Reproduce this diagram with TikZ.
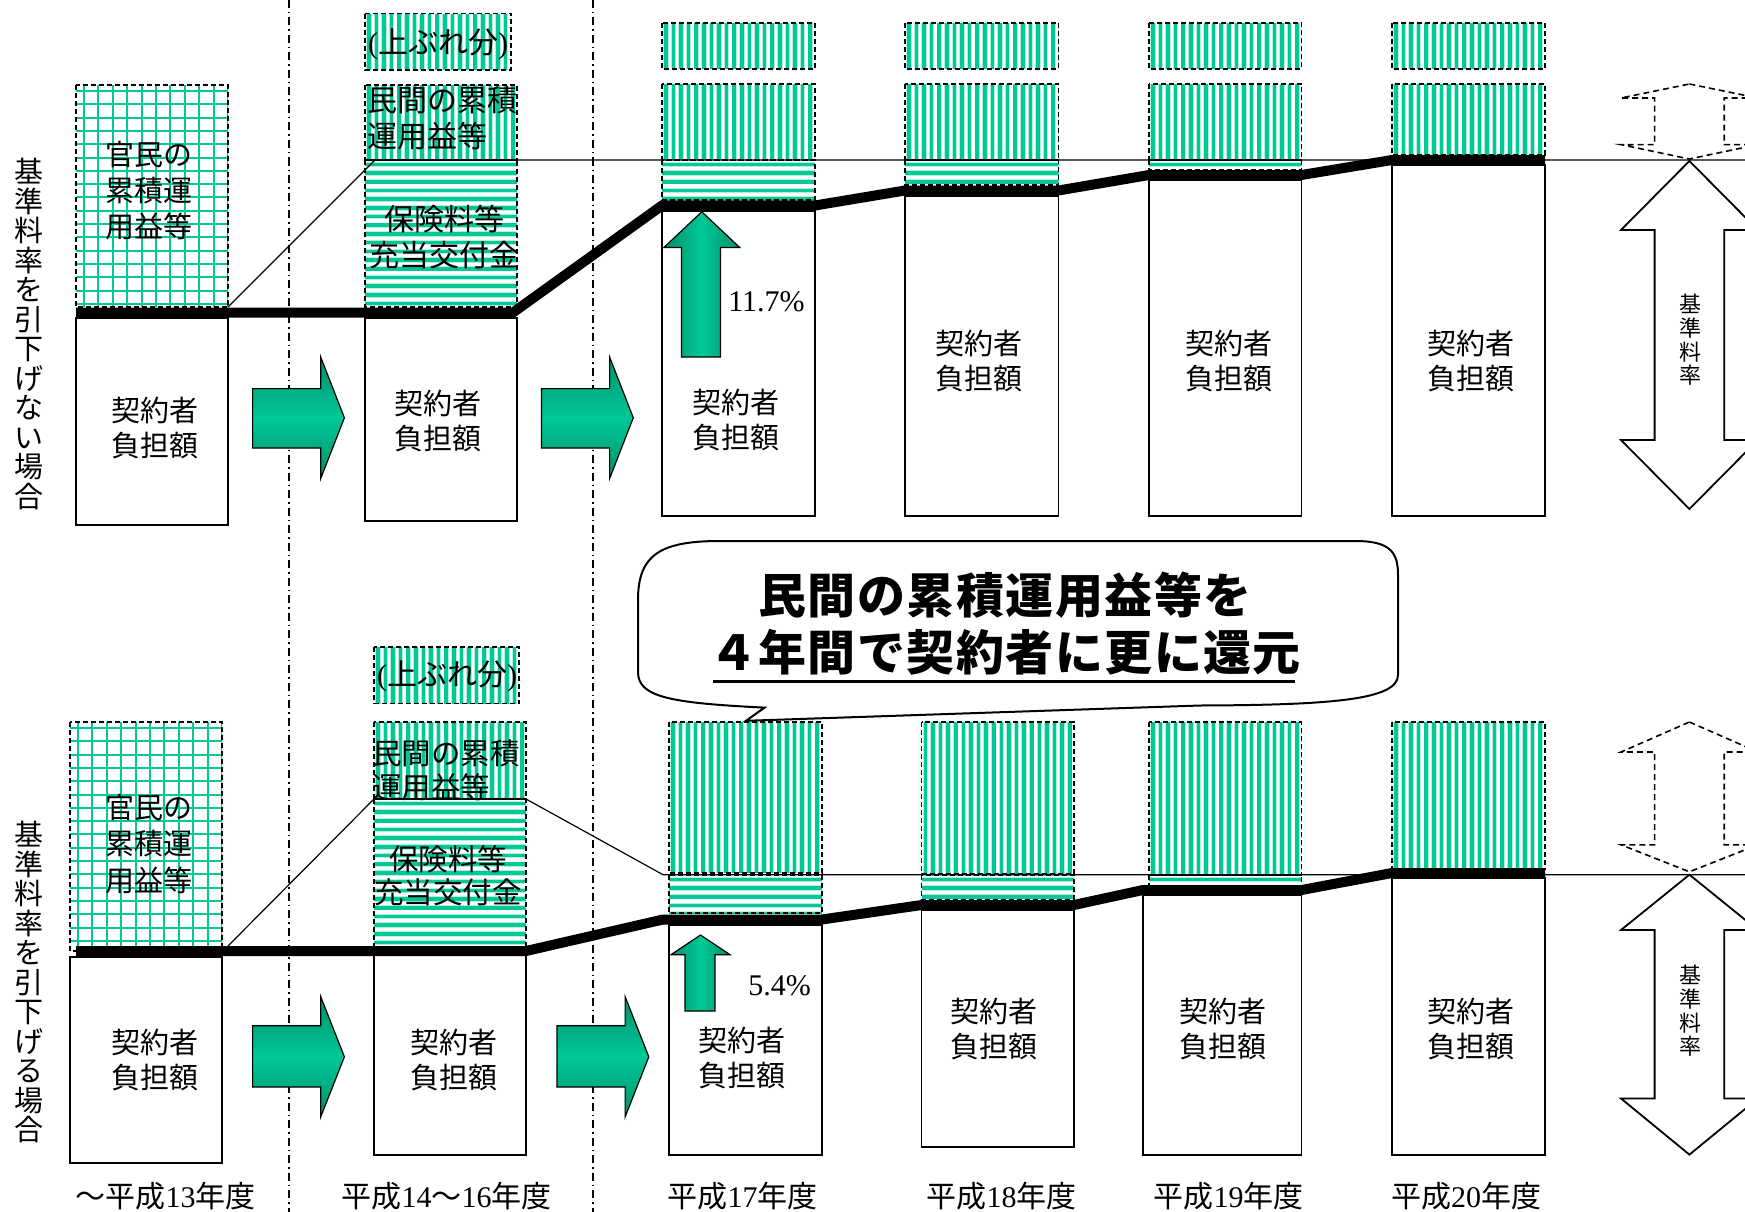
\documentclass[tikz,border=0pt]{standalone}
\usepackage{fontspec}
\setmainfont{Liberation Serif}
\newfontfamily\jp{Noto Sans CJK JP}
\definecolor{gr}{HTML}{00C896}
\definecolor{grl}{HTML}{B4EEDC}
\definecolor{grd}{HTML}{008F6B}
\newcommand\VStripes[4]{\begin{scope}\clip (#1,#2) rectangle (#3,#4);
 \foreach \i in {0,...,21}{\pgfmathsetmacro\xx{#1+3.8+7.6*\i}\draw[halo] (\xx,#2)--(\xx,#4);\draw[stripe] (\xx,#2)--(\xx,#4);}\end{scope}
 \draw[dbox] (#1,#2) rectangle (#3,#4);}
\newcommand\HStripes[4]{\begin{scope}\clip (#1,#2) rectangle (#3,#4);
 \foreach \i in {0,...,18}{\pgfmathsetmacro\yy{#2+4.35+8.7*\i}\draw[halo] (#1,\yy)--(#3,\yy);\draw[stripe] (#1,\yy)--(#3,\yy);}\end{scope}
 \draw[dbox] (#1,#2) rectangle (#3,#4);}
\newcommand\GridFill[4]{\begin{scope}\clip (#1,#2) rectangle (#3,#4);
 \foreach \i in {0,...,11}{\pgfmathsetmacro\xx{#1+8+14.4*\i}\draw[gline] (\xx,#2)--(\xx,#4);}
 \foreach \i in {0,...,18}{\pgfmathsetmacro\yy{#2+6+13.3*\i}\draw[gline] (#1,\yy)--(#3,\yy);}\end{scope}
 \draw[dbox] (#1,#2) rectangle (#3,#4);}
\tikzset{
 stripe/.style={gr, line width=3.6pt},
 halo/.style={grl, line width=5.4pt},
 gline/.style={gr, line width=2pt},
 dbox/.style={draw=black, line width=1.8pt, dash pattern=on 5pt off 3pt},
 sbox/.style={draw=black, line width=1.8pt, fill=white},
 heavy/.style={line width=10pt, black},
 thinline/.style={line width=1.2pt, black},
 dashdot/.style={line width=1.6pt, black, dash pattern=on 8pt off 4pt on 1.5pt off 4pt},
 rarrow/.style={draw=black, line width=1.2pt, top color=grd, bottom color=grd, middle color=gr},
 uarrow/.style={draw=black, line width=1.2pt, left color=grd, right color=grd, middle color=gr},
 dblarrow/.style={draw=black, line width=1.8pt, fill=white},
 dsharrow/.style={draw=black, line width=1.6pt, dash pattern=on 6pt off 4pt},
 jt/.style={font={\jp\fontsize{29}{35}\selectfont}, align=center, inner sep=0pt},
 jl/.style={font={\jp\fontsize{30}{36}\selectfont}, align=left, inner sep=0pt, anchor=west},
 vt/.style={font={\jp\fontsize{29}{29.5}\selectfont}, align=center, inner sep=0pt},
 vs/.style={font={\jp\fontsize{22}{23.6}\selectfont}, align=center, inner sep=0pt},
 yr/.style={font={\fontsize{30}{36}\selectfont}, inner sep=0pt},
 pct/.style={font={\fontsize{30}{36}\selectfont}, inner sep=0pt},
}
\begin{document}
\begin{tikzpicture}[x=1pt,y=-1pt]
\fill[white] (0,0) rectangle (1745,1212);
\clip (0,0) rectangle (1745,1212);
% dash-dot separators
\draw[dashdot] (289,0) -- (289,1212);
\draw[dashdot] (593,0) -- (593,1212);

% ---------------- TOP PANEL ----------------
\GridFill{76}{85}{228}{307}
\VStripes{365}{13.6}{511}{70}
\VStripes{365}{85}{517}{160}
\HStripes{365}{160}{517}{307}
\VStripes{662}{23}{815}{69}
\VStripes{662}{84}{815}{160}
\HStripes{662}{160}{815}{200}
\VStripes{905}{23}{1058.5}{69}
\VStripes{905}{84}{1058.5}{160}
\HStripes{905}{160}{1058.5}{185}
\VStripes{1149}{23}{1301.5}{69}
\VStripes{1149}{84}{1301.5}{160}
\HStripes{1149}{160}{1301.5}{170}
\VStripes{1392}{23}{1545}{69}
\VStripes{1392}{84}{1545}{155}

\draw[sbox] (76,318) rectangle (228,525);
\draw[sbox] (365,318) rectangle (517,521);
\draw[sbox] (662,211) rectangle (815,516);
\draw[sbox] (905,196) rectangle (1058.5,516);
\draw[sbox] (1149,180) rectangle (1301.5,516);
\draw[sbox] (1392,165) rectangle (1545,516);

\draw[thinline] (228,307) -- (375,160) -- (1745,160);
\draw[heavy] (76,312.5) -- (513,312.5) -- (662,205.5) -- (815,205.5) -- (905,190.5) -- (1058.5,190.5) -- (1149,175) -- (1301.5,175) -- (1392,160) -- (1545,160);

% green arrows
\path[rarrow] (252.6,388.6) -- (320.7,388.6) -- (320.7,357) -- (344.4,417.8) -- (320.7,478.6) -- (320.7,448) -- (252.6,448) -- cycle;
\path[rarrow] (541.5,388.6) -- (609.6,388.6) -- (609.6,357) -- (633.3,417.8) -- (609.6,478.6) -- (609.6,448) -- (541.5,448) -- cycle;
\path[uarrow] (681.5,357) -- (681.5,247.5) -- (663.9,247.5) -- (701.8,211.8) -- (739.7,247.5) -- (720.5,247.5) -- (720.5,357) -- cycle;

% right double arrows
\path[dsharrow] (1689.4,84) -- (1757.8,98) -- (1724.2,98) -- (1724.2,144.6) -- (1757.8,144.6) -- (1689.4,159) -- (1621,144.6) -- (1654.6,144.6) -- (1654.6,98) -- (1621,98) -- cycle;
\path[dblarrow] (1689.4,161) -- (1757.8,230) -- (1724.2,230) -- (1724.2,440) -- (1757.8,440) -- (1689.4,509) -- (1621,440) -- (1654.6,440) -- (1654.6,230) -- (1621,230) -- cycle;

% texts top
\node[vt] (vtop) at (29,334) {基\\準\\料\\率\\を\\引\\下\\げ\\な\\い\\場\\合};
\node[jt, font={\jp\fontsize{29}{36}\selectfont}] (t1g) at (149,191) {官民の\\累積運\\用益等};
\node[jt] (t1b) at (155,428) {契約者\\負担額};
\node[yr] (t2u) at (438,44.6) {({\jp 上ぶれ分})};
\node[jl] (t2m) at (367,118) {民間の累積\\運用益等};
\node[jt, font={\jp\fontsize{30}{36}\selectfont}] (t2h) at (444,237.5) {保険料等\\充当交付金};
\node[jt] (t2b) at (438,421.3) {契約者\\負担額};
\node[jt] (t3b) at (736,419.8) {契約者\\負担額};
\node[pct] (p1) at (766.5,302) {11.7\%};
\node[jt] (t4b) at (979,360.8) {契約者\\負担額};
\node[jt] (t5b) at (1228.6,360.8) {契約者\\負担額};
\node[jt] (t6b) at (1471,360.8) {契約者\\負担額};
\node[vs] (ktop) at (1690.8,340) {基\\準\\料\\率};

% ---------------- CALLOUT ----------------
\draw[line width=2pt, fill=white] (638,600) .. controls (638,555) and (660,541) .. (720,541) -- (1355,541) .. controls (1390,541) and (1398,552) .. (1398,575) -- (1398,675) .. controls (1398,700) and (1330,705) .. (1200,705.5) -- (746,720.8) -- (764.5,707.6) .. controls (670,703) and (638,697) .. (638,672) -- cycle;
\node[inner sep=0pt, align=center, font={\jp\bfseries\addfontfeatures{LetterSpace=3}\fontsize{48}{57}\selectfont}] (call) at (1005,623.5) {民間の累積運用益等を\\４年間で契約者に更に還元};
\draw[line width=3pt] (713,681) -- (1295,681);

% ---------------- BOTTOM PANEL ----------------
\GridFill{70}{722}{222}{951}
\VStripes{374}{647}{519}{703.5}
\VStripes{374}{722}{526}{799}
\HStripes{374}{799}{526}{949}
\VStripes{669}{722}{822}{873}
\HStripes{669}{875}{822}{913}
\VStripes{921.5}{722}{1073.8}{874}
\HStripes{921.5}{875}{1073.8}{899.5}
\VStripes{1149}{722}{1301.5}{875}
\HStripes{1149}{875}{1301.5}{886}
\VStripes{1392}{722}{1545}{869}

\draw[sbox] (70,957) rectangle (222,1163);
\draw[sbox] (374,955) rectangle (526,1155);
\draw[sbox] (669,925) rectangle (822,1155);
\draw[sbox] (921.5,910) rectangle (1073.8,1146.6);
\draw[sbox] (1143,895) rectangle (1301.5,1154.6);
\draw[sbox] (1392,878) rectangle (1545,1154.6);

\draw[thinline] (228,946) -- (374,799);
\draw[thinline] (526,799) -- (663,874.7) -- (1745,874.7);
\draw[heavy] (76,951) -- (526,951) -- (663,919.5) -- (822,919.5) -- (921.5,905) -- (1073.8,905) -- (1143,890) -- (1301.5,890) -- (1392,873) -- (1545,873);

\path[rarrow] (252.6,1025.7) -- (320.7,1025.7) -- (320.7,996.6) -- (344.4,1056.8) -- (320.7,1117) -- (320.7,1087) -- (252.6,1087) -- cycle;
\path[rarrow] (557,1025.7) -- (625.1,1025.7) -- (625.1,996.6) -- (648.8,1056.8) -- (625.1,1117) -- (625.1,1087) -- (557,1087) -- cycle;
\path[uarrow] (685,1011) -- (685,954.7) -- (671,954.7) -- (700.5,935) -- (730,954.7) -- (715,954.7) -- (715,1011) -- cycle;

\path[dsharrow] (1689.4,722) -- (1757.8,752) -- (1724.2,752) -- (1724.2,844.8) -- (1757.8,844.8) -- (1689.4,871.8) -- (1621,844.8) -- (1654.6,844.8) -- (1654.6,752) -- (1621,752) -- cycle;
\path[dblarrow] (1689.4,874.7) -- (1757.8,930) -- (1724.2,930) -- (1724.2,1098.5) -- (1757.8,1098.5) -- (1689.4,1154.6) -- (1621,1098.5) -- (1654.6,1098.5) -- (1654.6,930) -- (1621,930) -- cycle;

\node[vt] (vbot) at (29,982) {基\\準\\料\\率\\を\\引\\下\\げ\\る\\場\\合};
\node[jt, font={\jp\fontsize{29}{36.5}\selectfont}] (b1g) at (149,844) {官民の\\累積運\\用益等};
\node[jt] (b1b) at (155,1060) {契約者\\負担額};
\node[yr] (b2u) at (447,676.4) {({\jp 上ぶれ分})};
\node[jl, font={\jp\fontsize{29.5}{34}\selectfont}] (b2m) at (372,770) {民間の累積\\運用益等};
\node[jt, font={\jp\fontsize{29.5}{33}\selectfont}] (b2h) at (448,876) {保険料等\\充当交付金};
\node[jt] (b2b) at (453.5,1060) {契約者\\負担額};
\node[jt] (b3b) at (741.6,1058.5) {契約者\\負担額};
\node[pct] (p2) at (779.5,985.6) {5.4\%};
\node[jt] (b4b) at (994,1029.5) {契約者\\負担額};
\node[jt] (b5b) at (1223,1029.5) {契約者\\負担額};
\node[jt] (b6b) at (1471,1029) {契約者\\負担額};
\node[vs] (kbot) at (1690.8,1011) {基\\準\\料\\率};

% year labels
\node[yr] (y1) at (165.5,1196) {{\jp ～平成}13{\jp 年度}};
\node[yr] (y2) at (446.7,1196) {{\jp 平成}14{\jp ～}16{\jp 年度}};
\node[yr] (y3) at (742.5,1196) {{\jp 平成}17{\jp 年度}};
\node[yr] (y4) at (1001.7,1196) {{\jp 平成}18{\jp 年度}};
\node[yr] (y5) at (1228.6,1196) {{\jp 平成}19{\jp 年度}};
\node[yr] (y6) at (1466,1196) {{\jp 平成}20{\jp 年度}};
\end{tikzpicture}
\end{document}
